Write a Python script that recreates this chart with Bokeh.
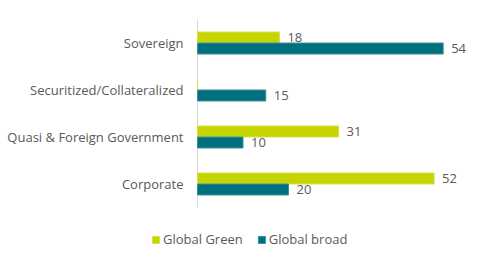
from bokeh.plotting import figure
from bokeh.models import ColumnDataSource, Range1d, Legend, LegendItem, LabelSet
from bokeh.core.properties import value
from bokeh.embed import file_html
from bokeh.resources import INLINE

categories = ["Corporate", "Quasi & Foreign Government", "Securitized/Collateralized", "Sovereign"]
global_green = [52, 31, 0, 18]
global_broad = [20, 10, 15, 54]
series_names = ["Global Green", "Global broad"]

GREEN = "#c6d400"
TEAL = "#00707e"
TXT = "#595959"
FONT = "Open Sans"

W, H = 490, 265
AX_X = 197          # pixel x of the value axis origin
AX_BOTTOM = 207     # pixel y (from top) of category axis bottom
PX_PER_UNIT = 4.55  # horizontal pixels per value unit
PX_PER_CAT = 47.0   # vertical pixels per category

n = len(categories)
ypos = [i + 0.5 for i in range(n)]
bh = 0.234

src = ColumnDataSource(dict(
    cat=categories,
    y=ypos,
    yg=[y + bh / 2 for y in ypos],
    yb=[y - bh / 2 for y in ypos],
    green=global_green,
    broad=global_broad,
    green_lbl=[str(v) if v else "" for v in global_green],
    broad_lbl=[str(v) for v in global_broad],
    x0=[0] * n,
))

x_range = Range1d(-AX_X / PX_PER_UNIT, (W - AX_X) / PX_PER_UNIT)
y_range = Range1d(-(H - AX_BOTTOM) / PX_PER_CAT, AX_BOTTOM / PX_PER_CAT)

p = figure(width=W, height=H, output_backend="svg", toolbar_location=None,
           x_range=x_range, y_range=y_range, min_border=0)
p.outline_line_color = None
p.grid.visible = False
p.xaxis.visible = False
p.yaxis.visible = False

# category axis line
p.segment(x0=[0], y0=[0], x1=[0], y1=[n], line_color="#d9d9d9", line_width=1)

r1 = p.hbar(y="yg", right="green", left=0, height=bh, source=src,
            fill_color=GREEN, line_color="#d4df4a", line_width=1)
r2 = p.hbar(y="yb", right="broad", left=0, height=bh, source=src,
            fill_color=TEAL, line_color="#3f8f99", line_width=1)

for col, lbl, ycol in (("green", "green_lbl", "yg"), ("broad", "broad_lbl", "yb")):
    p.add_layout(LabelSet(x=col, y=ycol, text=lbl, source=src,
                          x_offset=8, text_baseline="middle", text_align="left",
                          text_font=value(FONT), text_font_size=value("13px"), text_color=TXT))

# category labels
p.text(x="x0", y="y", text="cat", source=src, x_offset=-14,
       text_align="right", text_baseline="middle",
       text_font=value(FONT), text_font_size=value("13px"), text_color=TXT)

legend = Legend(items=[LegendItem(label=series_names[0], renderers=[r1]),
                       LegendItem(label=series_names[1], renderers=[r2])],
                orientation="horizontal", location=(151, 17),
                label_text_font=FONT, label_text_font_size="13px", label_text_color=TXT,
                glyph_width=9, glyph_height=9, spacing=14, label_standoff=3,
                border_line_color=None, background_fill_alpha=0, padding=0, margin=0)
p.add_layout(legend)

open("out.html", "w").write(file_html(p, INLINE))
